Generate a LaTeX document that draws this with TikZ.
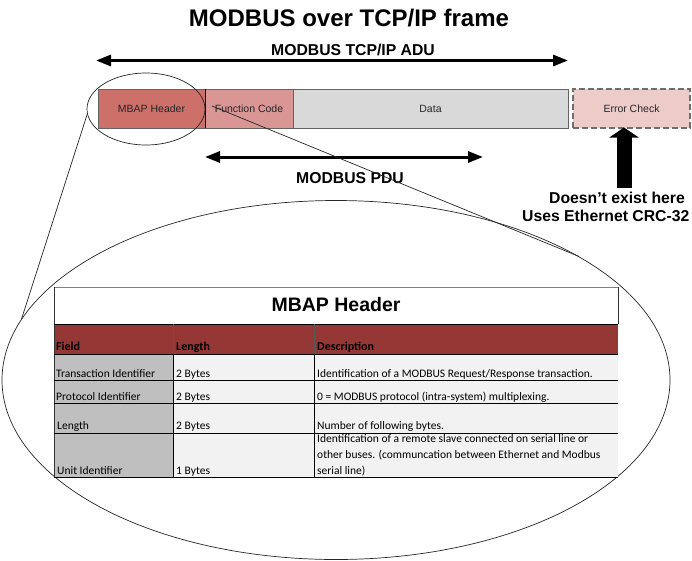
\documentclass[tikz,border=0pt]{standalone}
\usepackage{fontspec}
\setmainfont{Liberation Sans}
\newfontfamily\calfont{Carlito}
\usetikzlibrary{arrows.meta,shapes.geometric}
\definecolor{mbapc}{RGB}{205,112,106}
\definecolor{fcc}{RGB}{218,150,148}
\definecolor{datac}{RGB}{217,217,217}
\definecolor{errc}{RGB}{237,203,201}
\definecolor{errb}{RGB}{110,110,110}
\definecolor{hdrc}{RGB}{149,55,53}
\definecolor{fieldc}{RGB}{191,191,191}
\definecolor{cellc}{RGB}{242,242,242}
\definecolor{bordc}{RGB}{100,100,100}
\begin{document}
\begin{tikzpicture}[x=1pt,y=-1pt,
  framebox/.style={draw=bordc, line width=0.8pt, minimum height=39pt, inner sep=0pt,
    font=\fontsize{10.5}{12}\selectfont, text=black!85},
  dblarrow/.style={line width=3pt, {Triangle[length=15pt,width=11pt]}-{Triangle[length=15pt,width=11pt]}},
  lbl/.style={font=\bfseries\fontsize{15.75}{18}\selectfont, inner sep=0pt},
  cell/.style={font=\calfont\fontsize{11.5}{14}\selectfont, inner sep=0pt, anchor=base west},
  hcell/.style={cell, font=\calfont\bfseries\fontsize{12}{14}\selectfont},
  thinline/.style={draw=black!85, line width=0.7pt}
]
\useasboundingbox (0,0) rectangle (692,560);

% title
\node[font=\bfseries\fontsize{24}{28}\selectfont, inner sep=0pt, anchor=base] (title) at (349,26) {MODBUS over TCP/IP frame};

% ADU arrow
\node[lbl, anchor=base] (adulbl) at (353,55) {MODBUS TCP/IP ADU};
\coordinate (aduL) at (96,60.5);
\coordinate (aduR) at (568,60.5);
\draw[dblarrow] (aduL) -- (aduR);

% frame boxes
\node[framebox, fill=mbapc, minimum width=107pt] (mbap) at (151.5,108.5) {MBAP Header};
\node[framebox, fill=fcc, minimum width=88pt] (fc) at (249,108.5) {Function Code};
\node[framebox, fill=datac, minimum width=275pt] (data) at (430.5,108.5) {Data};
\node[framebox, fill=errc, draw=errb, dash pattern=on 6pt off 3pt, line width=1.2pt, minimum width=117pt] (err) at (631.5,108.5) {Error Check};
\draw[black, line width=0.8pt] (mbap.north east) -- (mbap.south east);

% PDU arrow
\coordinate (pduL) at (205,157);
\coordinate (pduR) at (483,157);
\draw[dblarrow] (pduL) -- (pduR);
\node[lbl, anchor=base] (pdulbl) at (350,183) {MODBUS PDU};

% up arrow
\coordinate (upTip) at (624,127.5);
\coordinate (upBase) at (624,188);
\draw[line width=15pt, -{Triangle[length=10pt,width=29pt]}] (upBase) -- (upTip);
\node[lbl, anchor=base west] (note1) at (549,203.5) {Doesn’t exist here};
\node[lbl, anchor=base west] (note2) at (522,221.5) {Uses Ethernet CRC-32};

% magnifier ellipses
\node[thinline, draw, ellipse, inner sep=0pt, minimum width=118pt, minimum height=72pt] (mag) at (146,109) {};
\node[thinline, draw, ellipse, inner sep=0pt, minimum width=668pt, minimum height=359pt] (big) at (336,380) {};
\coordinate (rstart) at (212,106);
\draw[thinline] (mag.185) -- (big.169);
\draw[thinline] (rstart) -- (big.27);

% table
\fill[white] (54,287) rectangle (618,324);
\fill[hdrc] (54,324) rectangle (618,354);
\fill[fieldc] (54,354) rectangle (173,477);
\fill[cellc] (173,354) rectangle (618,477);
\draw[gray, line width=1.5pt] (54,287.5) -- (618,287.5);
\draw[black!80, line width=1pt] (54,287) -- (54,477);
\draw[black!80, line width=1pt] (618,287) -- (618,324);
\draw[black, line width=1pt] (54,324) -- (618,324);
\foreach \yy in {354,380,403,433,477} \draw[black, line width=1pt] (54,\yy) -- (618,\yy);
\draw[black!65, line width=1pt] (173,324) -- (173,354);
\draw[black!65, line width=1pt] (314,324) -- (314,354);
\draw[black, line width=1pt] (173,354) -- (173,477);
\draw[black, line width=1pt] (314,354) -- (314,477);

\node[font=\bfseries\fontsize{19.5}{22}\selectfont, inner sep=0pt, anchor=base] (ttitle) at (336,311) {MBAP Header};

\node[hcell] (hf) at (56,350) {Field};
\node[hcell] (hl) at (176,350) {Length};
\node[hcell] (hd) at (317,350) {Description};

\node[cell] (f1) at (56,377) {Transaction Identifier};
\node[cell] (l1) at (176,377) {2 Bytes};
\node[cell] (d1) at (317,377) {Identification of a MODBUS Request/Response transaction.};

\node[cell] (f2) at (56,400) {Protocol Identifier};
\node[cell] (l2) at (176,400) {2 Bytes};
\node[cell] (d2) at (317,400) {0 = MODBUS protocol (intra-system) multiplexing.};

\node[cell] (f3) at (57,429.5) {Length};
\node[cell] (l3) at (176,429.5) {2 Bytes};
\node[cell] (d3) at (317,429.5) {Number of following bytes.};

\node[cell] (f4) at (57,474) {Unit Identifier};
\node[cell] (l4) at (176,474) {1 Bytes};
\node[cell, anchor=south west, align=left, font=\calfont\fontsize{11.5}{16}\selectfont] (d4) at (317,476.5)
  {Identification of a remote slave connected on serial line or\\other buses. (communcation between Ethernet and Modbus\\serial line)};
\end{tikzpicture}
\end{document}
